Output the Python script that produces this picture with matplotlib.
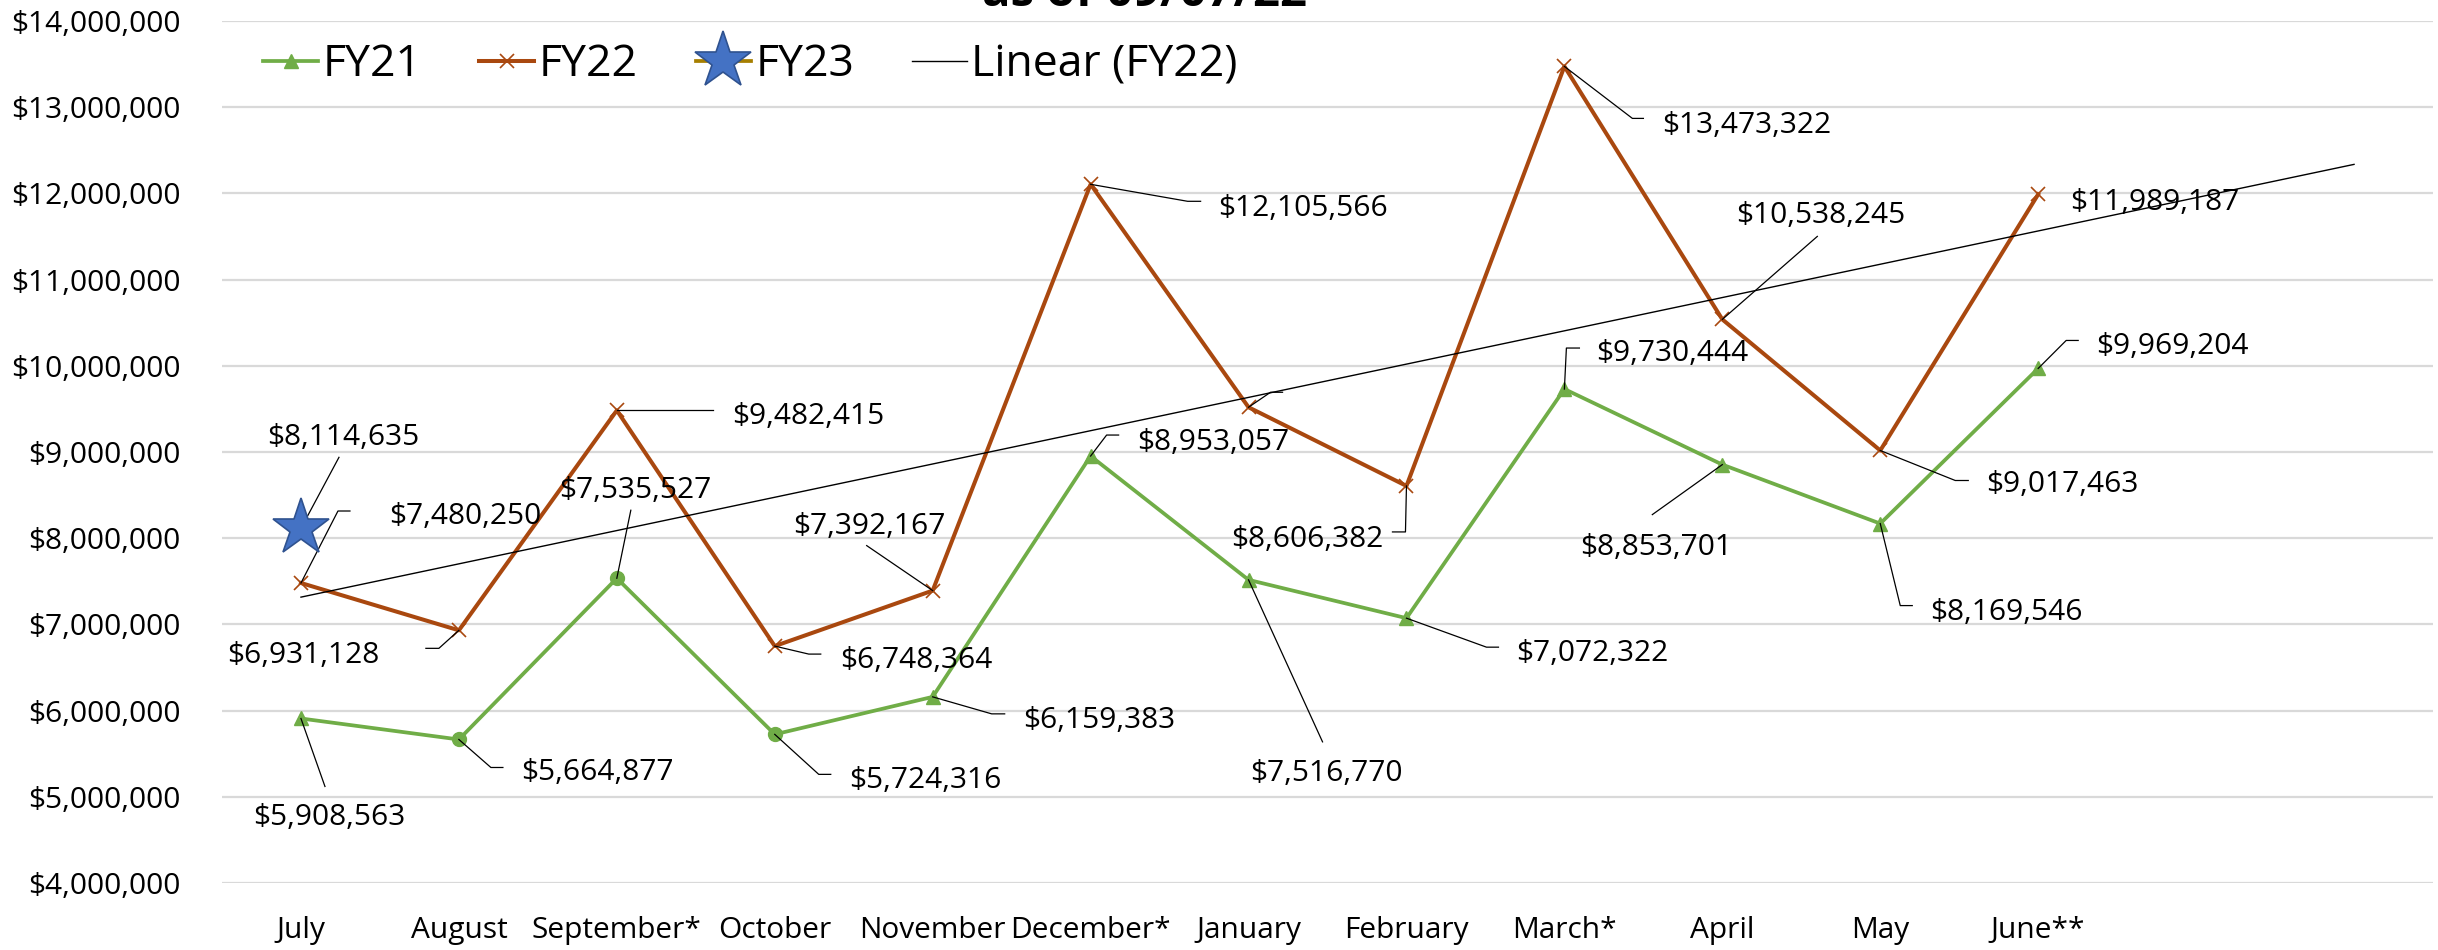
import matplotlib
matplotlib.use("Agg")
import matplotlib.pyplot as plt
from matplotlib.lines import Line2D
from matplotlib.transforms import IdentityTransform
import numpy as np

plt.rcParams['font.family'] = ['Open Sans', 'DejaVu Sans']

months = ["July", "August", "September*", "October", "November", "December*",
          "January", "February", "March*", "April", "May", "June**"]
fy21 = [5908563, 5664877, 7535527, 5724316, 6159383, 8953057,
        7516770, 7072322, 9730444, 8853701, 8169546, 9969204]
fy22 = [7480250, 6931128, 9482415, 6748364, 7392167, 12105566,
        9519000, 8606382, 13473322, 10538245, 9017463, 11989187]
fy23 = [8114635]
fy21_round = [1, 2, 3]      # months drawn with round markers in the original
fy22_nolabel = [6]          # label text missing, only the leader line is left
title = "as of 09/07/22"

GREEN = "#70AD47"
BROWN = "#A9480F"
GOLD = "#A67F00"
BLUE = "#4472C4"
BLUE_EDGE = "#2F528F"
FS = 21.5

# label layout in pixels relative to the point (y downwards):
# (ha, text dx, text dy, leader elbow dx, elbow dy, stub end dx)
lay21 = [
    ("center", 28, 96, 24, 68, None),
    ("left", 62, 30, 32, 28, 44),
    ("center", 18, -91, 14, -68, None),
    ("left", 74, 43, 44, 40, 56),
    ("left", 90, 20, 59, 17, 72),
    ("left", 47, -17, 16, -21, 28),
    ("center", 78, 190, 74, 162, None),
    ("left", 110, 32, 80, 29, 92),
    ("left", 32, -39, 2, -41, 15),
    ("center", -66, 79, -70, 50, None),
    ("left", 50, 85, 20, 82, 32),
    ("left", 58, -25, 28, -28, 40),
]
lay22 = [
    ("left", 88, -70, 37, -72, 49),
    ("right", -80, 22, -20, 18, -33),
    ("left", 115, 3, 96, 0, None),
    ("left", 65, 11, 34, 8, 46),
    ("center", -63, -68, -66, -45, None),
    ("left", 128, 21, 97, 17, 110),
    ("left", 40, -15, 22, -15, 34),
    ("right", -23, 50, -1, 46, -14),
    ("left", 98, 56, 68, 52, 79),
    ("center", 98, -107, 95, -83, None),
    ("left", 106, 31, 75, 30, 88),
    ("left", 32, 5, None, None, None),
]
lay23 = [("center", 42, -94, 38, -71, None)]

fig = plt.figure(figsize=(24.38, 9.5), dpi=100)
ax = fig.add_axes([222 / 2438, 67 / 950, 2211 / 2438, 862 / 950])

x = np.arange(len(months))
ax.set_xlim(-0.5, 13.5)
ax.set_ylim(4e6, 14e6)
ax.set_yticks(np.arange(4e6, 14.1e6, 1e6))
ax.yaxis.set_major_formatter(matplotlib.ticker.FuncFormatter(lambda v, p: "${:,.0f}".format(v)))
ax.set_xticks(x)
ax.set_xticklabels(months)
ax.tick_params(axis='both', length=0, labelsize=FS, colors='black')
ax.tick_params(axis='x', pad=24)
ax.tick_params(axis='y', pad=30)
for s in ax.spines.values():
    s.set_visible(False)
ax.grid(axis='y', color='#D9D9D9', lw=1.6)
ax.set_axisbelow(True)

# series
ax.plot(x, fy21, color=GREEN, lw=2.7, zorder=2)
tri = [i for i in x if i not in fy21_round]
ax.plot(x[tri], np.array(fy21)[tri], ls='none', marker='^', ms=10, color=GREEN, zorder=3)
ax.plot(x[fy21_round], np.array(fy21)[fy21_round], ls='none', marker='o', ms=10, color=GREEN, zorder=3)
ax.plot(x, fy22, color=BROWN, lw=2.9, marker='x', ms=10, mew=1.2, zorder=2)

# linear trend of FY22, forecast forward 2 periods
k, b = np.polyfit(x, fy22, 1)
tx = np.array([0, len(months) + 1])
ax.plot(tx, k * tx + b, color='black', lw=1.0, zorder=3)

ax.plot(x[:len(fy23)], fy23, ls='none', marker='*', ms=43, mfc=BLUE, mec=BLUE_EDGE, mew=1.2, zorder=7)


def draw_label(i, v, text, lay):
    ha, tdx, tdy, ex, ey, sx = lay
    px, py = ax.transData.transform((i, v))
    if ex is not None:
        xs = [px, px + ex]
        ys = [py, py - ey]
        if sx is not None:
            xs.append(px + sx)
            ys.append(py - ey)
        ax.add_line(Line2D(xs, ys, transform=IdentityTransform(), color='black', lw=0.9, zorder=5))
    if text:
        ax.text(px + tdx, py - tdy, text, transform=IdentityTransform(), ha=ha,
                va='center_baseline', fontsize=FS, zorder=6)


for i, v in enumerate(fy21):
    draw_label(i, v, "${:,.0f}".format(v), lay21[i])
for i, v in enumerate(fy22):
    txt = "" if i in fy22_nolabel else "${:,.0f}".format(v)
    draw_label(i, v, txt, lay22[i])
for i, v in enumerate(fy23):
    draw_label(i, v, "${:,.0f}".format(v), lay23[i])

handles = [
    Line2D([], [], color=GREEN, lw=2.7, marker='^', ms=10),
    Line2D([], [], color=BROWN, lw=2.9, marker='x', ms=10, mew=1.2),
    Line2D([], [], color=GOLD, lw=2.7, marker='*', ms=43, mfc=BLUE, mec=BLUE_EDGE, mew=1.2),
    Line2D([], [], color='black', lw=1.0),
]
fig.legend(handles, ["FY21", "FY22", "FY23", "Linear (FY22)"], loc='center left',
           bbox_to_anchor=(263 / 2438, 1 - 65 / 950), frameon=False, ncol=4,
           fontsize=32, borderpad=0, borderaxespad=0, handlelength=1.24,
           handletextpad=0.1, columnspacing=1.3)

# the title sits mostly above the picture in the original, only its foot shows
fig.text(1145 / 2438, 1 - 6 / 950, title, ha='center', va='baseline',
         fontsize=34, fontweight='bold')

fig.savefig("out.png", dpi=100)
